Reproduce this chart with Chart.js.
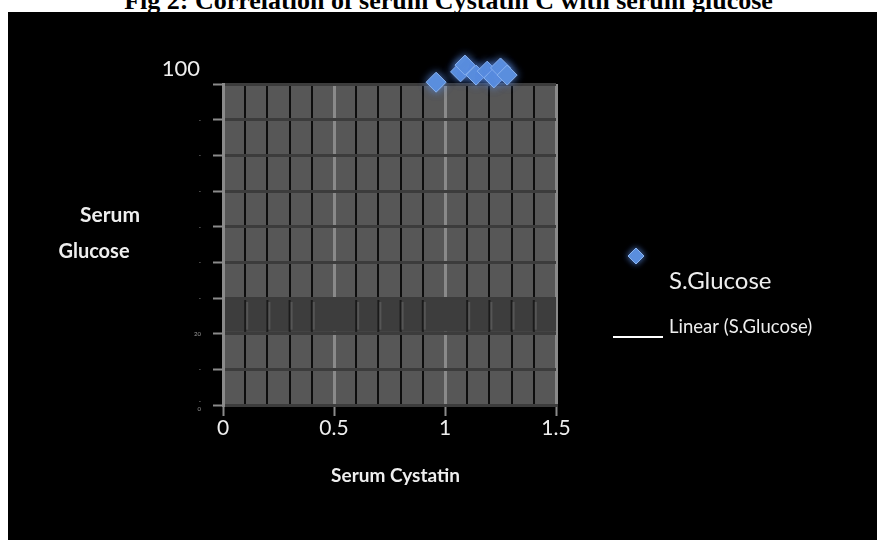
<!DOCTYPE html>
<html>
<head>
<meta charset="utf-8">
<script src="https://cdn.jsdelivr.net/npm/chart.js@4.4.1/dist/chart.umd.min.js"></script>
<style>
  html, body { margin: 0; padding: 0; background: #ffffff; width: 877px; height: 540px; overflow: hidden; position: relative; }
  #title { position: absolute; left: 10px; top: -12px; width: 877px; text-align: center; font: bold 26px "Liberation Serif", "Times New Roman", serif; line-height: 26px; color: #000; white-space: nowrap; }
  #wrap { position: absolute; left: 8px; top: 12px; width: 869px; height: 528px; background: #000; }
</style>
</head>
<body>
<div id="title">Fig 2: Correlation of serum Cystatin C with serum glucose</div>
<div id="wrap"><canvas id="c" width="869" height="528"></canvas></div>
<script>
// ---- data ----
const cystatin = [0.96, 1.07, 1.09, 1.14, 1.19, 1.22, 1.25, 1.28];
const glucose  = [90.5, 93.4, 95.3, 92.5, 93.6, 91.7, 94.5, 92.5];
const seriesName = "S.Glucose";
const trendName = "Linear (S.Glucose)";
const xTickLabels = ["0", "0.5", "1", "1.5"];
const yTopLabel = "100";
const xTitle = "Serum Cystatin";
const yTitleLines = ["Serum", "Glucose"];

const points = cystatin.map((x, i) => ({ x: x, y: glucose[i] }));
const FONT = "Lato, 'Open Sans', sans-serif";
const BLUE = '#5b8fdd';
const BLUE_EDGE = '#8ab4f0';

function isMajor(v) { return Math.abs(v * 2 - Math.round(v * 2)) < 1e-6; }

const decor = {
  id: 'decor',
  beforeDraw(chart) {
    const { ctx, chartArea: a } = chart;
    ctx.save();
    ctx.fillStyle = '#575757';
    ctx.fillRect(a.left, a.top, a.right - a.left, a.bottom - a.top);
    ctx.restore();
  },
  beforeDatasetsDraw(chart) {
    const { ctx, chartArea: a, scales } = chart;
    const y1 = scales.y.getPixelForValue(30), y0 = scales.y.getPixelForValue(20);
    ctx.save();
    ctx.fillStyle = '#3d3d3d';
    ctx.fillRect(a.left + 2, y1 + 2, a.right - a.left - 2, y0 - y1 - 4);
    scales.x.ticks.forEach(t => {
      if (isMajor(t.value)) return;
      const px = scales.x.getPixelForValue(t.value);
      ctx.fillStyle = '#1a1a1a';
      ctx.fillRect(px - 1, y1 + 2, 2, y0 - y1 - 4);
      ctx.fillStyle = '#555555';
      ctx.fillRect(px + 1, y1 + 4, 2, y0 - y1 - 8);
    });
    ctx.restore();
  },
  beforeDatasetDraw(chart) {
    chart.ctx.save();
    chart.ctx.shadowColor = 'rgba(90,140,230,0.9)';
    chart.ctx.shadowBlur = 8;
  },
  afterDatasetDraw(chart) {
    chart.ctx.restore();
  },
  afterDraw(chart) {
    const { ctx, chartArea: a, scales } = chart;
    ctx.save();
    ctx.fillStyle = '#eeeeee';
    ctx.font = '22px ' + FONT;
    ctx.textAlign = 'right';
    ctx.textBaseline = 'middle';
    ctx.fillText(yTopLabel, a.left - 23, scales.y.getPixelForValue(90) - 15);
    ctx.textAlign = 'center';
    ctx.font = 'bold 21px ' + FONT;
    ctx.fillText(yTitleLines[0], 102, 203);
    ctx.font = 'bold 20px ' + FONT;
    ctx.fillText(yTitleLines[1], 86, 240);
    ctx.font = 'bold 19px ' + FONT;
    ctx.fillText(xTitle, (a.left + a.right) / 2 + 6, 464);
    const ds = chart.data.datasets;
    ctx.save();
    ctx.shadowColor = 'rgba(90,140,230,0.9)';
    ctx.shadowBlur = 6;
    ctx.fillStyle = BLUE; ctx.strokeStyle = BLUE_EDGE; ctx.lineWidth = 1;
    ctx.beginPath();
    ctx.moveTo(628, 236); ctx.lineTo(636, 244); ctx.lineTo(628, 252); ctx.lineTo(620, 244); ctx.closePath();
    ctx.fill(); ctx.stroke();
    ctx.restore();
    ctx.fillStyle = '#eeeeee';
    ctx.textAlign = 'left';
    ctx.textBaseline = 'alphabetic';
    ctx.font = '24px ' + FONT;
    ctx.fillText(ds[0].label, 661, 277);
    ctx.font = '18.5px ' + FONT;
    ctx.fillText(ds[1].label, 661, 321);
    ctx.strokeStyle = '#ffffff';
    ctx.lineWidth = 2;
    ctx.beginPath();
    ctx.moveTo(605, 325); ctx.lineTo(655, 325);
    ctx.stroke();
    ctx.restore();
  }
};

// let the points that sit above the plot frame be drawn (the library skips points outside chartArea)
const widenArea = {
  id: 'widenArea',
  beforeDatasetsDraw(chart) {
    const a = chart.chartArea;
    chart._savedArea = a;
    chart.chartArea = { left: a.left, right: a.right, top: a.top - 60, bottom: a.bottom, width: a.width, height: a.height + 60 };
  },
  afterDatasetsDraw(chart) {
    if (chart._savedArea) { chart.chartArea = chart._savedArea; chart._savedArea = null; }
  }
};

new Chart(document.getElementById('c'), {
  type: 'scatter',
  data: {
    datasets: [
      {
        label: seriesName,
        data: points,
        pointStyle: 'rectRot',
        pointRadius: 10,
        pointHoverRadius: 10,
        backgroundColor: BLUE,
        borderColor: BLUE_EDGE,
        borderWidth: 1,
        clip: false
      },
      {
        label: trendName,
        type: 'line',
        data: [],
        borderColor: '#ffffff',
        borderWidth: 2,
        pointRadius: 0
      }
    ]
  },
  options: {
    responsive: false,
    animation: false,
    devicePixelRatio: 1,
    layout: { padding: { left: 0, top: 72, right: 321, bottom: 0 } },
    plugins: { legend: { display: false }, title: { display: false }, tooltip: { enabled: false } },
    scales: {
      x: {
        type: 'linear',
        min: 0, max: 1.5,
        afterFit(s) { s.height = 135; },
        ticks: {
          stepSize: 0.1,
          autoSkip: false,
          maxRotation: 0,
          color: '#eeeeee',
          font: { family: FONT, size: 21 },
          padding: 0,
          callback(v) {
            if (!isMajor(v)) return '';
            return xTickLabels[Math.round(v * 2)];
          }
        },
        grid: {
          color: c => (c.tick && isMajor(c.tick.value)) ? '#8a8a8a' : '#0d0d0d',
          lineWidth: c => (c.tick && isMajor(c.tick.value)) ? 3 : 2,
          tickColor: c => (c.tick && isMajor(c.tick.value)) ? '#8a8a8a' : 'rgba(0,0,0,0)',
          tickLength: 11,
          tickWidth: 2
        },
        border: { color: '#3c3c3c', width: 3 }
      },
      y: {
        type: 'linear',
        min: 0, max: 90,
        afterFit(s) { s.width = 215; },
        ticks: {
          stepSize: 10,
          color: '#9a9a9a',
          font: { family: FONT, size: 6 },
          padding: 12,
          callback(v) {
            if (v === 0) return ['-', '0'];
            if (v === 20) return '20';
            if (v === 90) return '';
            return '-';
          }
        },
        grid: {
          color: '#3c3c3c',
          lineWidth: 3,
          tickColor: '#8a8a8a',
          tickLength: 10,
          tickWidth: 2
        },
        border: { color: '#8a8a8a', width: 3 }
      }
    }
  },
  plugins: [decor, widenArea]
});
</script>
</body>
</html>
